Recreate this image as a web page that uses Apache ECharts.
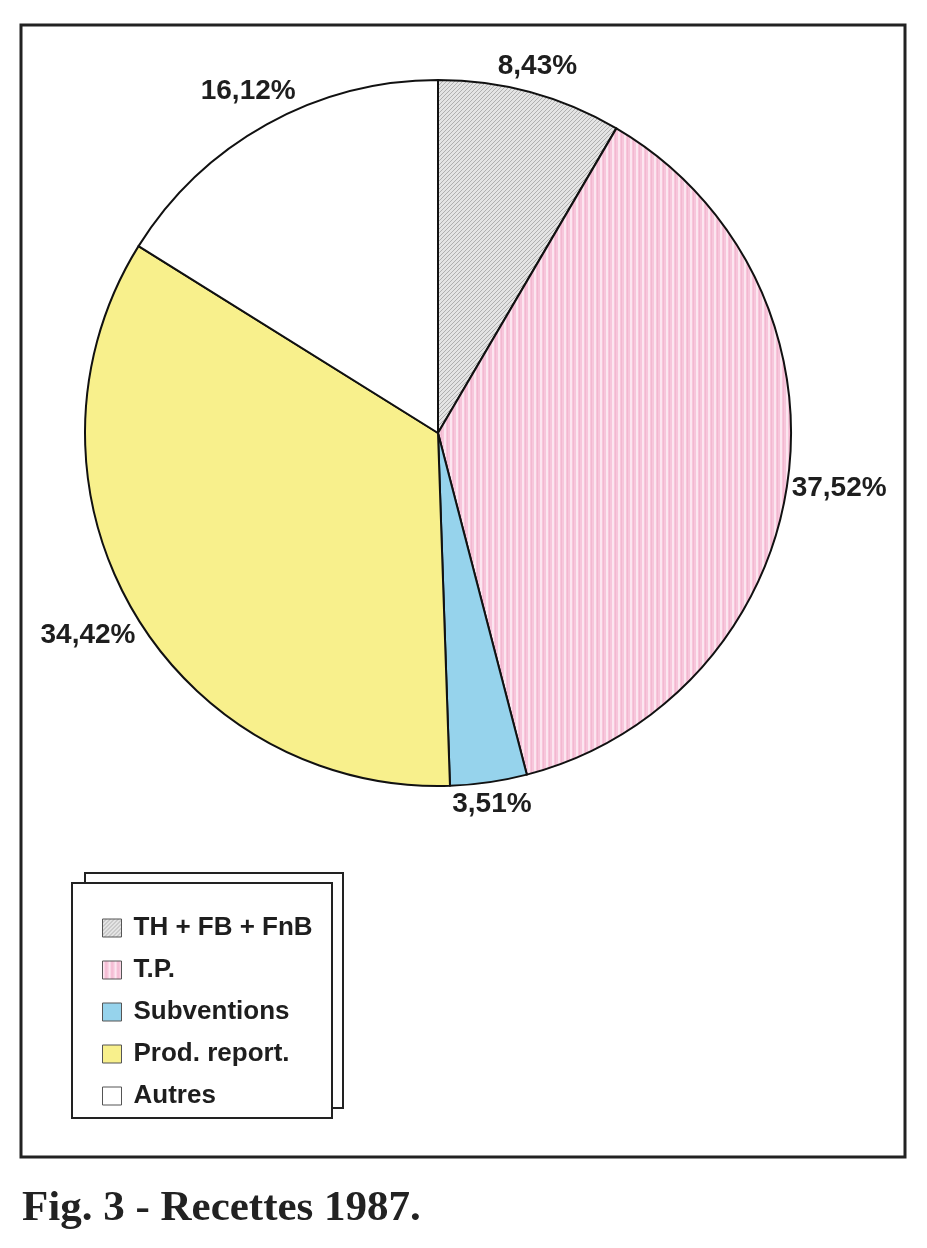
<!DOCTYPE html>
<html><head><meta charset="utf-8">
<script src="https://cdn.jsdelivr.net/npm/echarts@6/dist/echarts.min.js"></script>
<style>html,body{margin:0;padding:0;background:#fff}#c{width:927px;height:1248px}</style>
</head><body><div id="c"></div>
<script>
const categories = ['TH + FB + FnB', 'T.P.', 'Subventions', 'Prod. report.', 'Autres'];
const values = [8.43, 37.52, 3.51, 34.42, 16.12];
const valueLabels = ['8,43%', '37,52%', '3,51%', '34,42%', '16,12%'];
const caption = 'Fig. 3 - Recettes 1987.';

function pattern(w, h, bg, draw) {
  const c = document.createElement('canvas'); c.width = w; c.height = h;
  const g = c.getContext('2d'); g.fillStyle = bg; g.fillRect(0, 0, w, h); draw(g);
  return { image: c, repeat: 'repeat' };
}
const greyPat = pattern(4, 4, '#e4e4e4', g => { g.fillStyle = '#b0b0b0'; for (let i = 0; i < 4; i++) g.fillRect(i, 3 - i, 1, 1); });
const pinkPat = pattern(6, 4, '#f7c6db', g => { g.fillStyle = '#fce6f0'; g.fillRect(0, 0, 2, 4); g.fillStyle = '#f3b8d0'; g.fillRect(3, 0, 1, 4); });
const colors = [greyPat, pinkPat, '#96d3ec', '#f8f08c', '#ffffff'];

const CX = 438, CY = 433, R = 353;
const total = values.reduce((a, b) => a + b, 0);
const chart = echarts.init(document.getElementById('c'), null, { renderer: 'canvas' });
chart.setOption({
  backgroundColor: '#fff',
  animation: false,
  graphic: [
    { type: 'rect', z: 0, shape: { x: 21, y: 25, width: 884, height: 1132 }, style: { fill: 'none', stroke: '#222', lineWidth: 3 } },
    { type: 'rect', z: 1, shape: { x: 85, y: 873, width: 258, height: 235 }, style: { fill: '#fff', stroke: '#222', lineWidth: 2 } },
    { type: 'rect', z: 2, shape: { x: 72, y: 883, width: 260, height: 235 }, style: { fill: '#fff', stroke: '#222', lineWidth: 2 } },
    { type: 'text', z: 2, left: 22, top: 1187, style: { text: caption, font: 'bold 43px "Liberation Serif"', fill: '#222' } }
  ],
  legend: {
    orient: 'vertical', left: 97, top: 909, z: 5,
    itemWidth: 19, itemHeight: 18, itemGap: 14,
    icon: 'rect',
    itemStyle: { borderColor: '#555', borderWidth: 1 },
    textStyle: { fontFamily: 'Liberation Sans', fontWeight: 'bold', fontSize: 26, color: '#1e1e1e', lineHeight: 28, padding: [0, 0, 0, 7] },
    data: categories
  },
  series: [{
    type: 'pie', center: [CX, CY], radius: R, startAngle: 90, clockwise: true,
    avoidLabelOverlap: false,
    itemStyle: { borderColor: '#111', borderWidth: 2 },
    label: { show: true, position: 'outside', formatter: p => valueLabels[p.dataIndex], fontFamily: 'Liberation Sans', fontWeight: 'bold', fontSize: 28, color: '#1e1e1e' },
    labelLine: { show: false, length: 0, length2: 0 },
    labelLayout: function (p) {
      const i = p.dataIndex;
      let cum = 0; for (let k = 0; k < i; k++) cum += values[k];
      const a = (cum + values[i] / 2) / total * 2 * Math.PI;
      const dx = Math.sin(a), dy = -Math.cos(a);
      const w = p.labelRect.width, h = p.labelRect.height;
      const d = R + 3 + Math.abs(dx) * w / 2 + Math.abs(dy) * h / 2;
      return { x: CX + dx * d, y: CY + dy * d, align: 'center', verticalAlign: 'middle' };
    },
    emphasis: { disabled: true },
    data: categories.map((n, i) => ({ name: n, value: values[i], itemStyle: { color: colors[i] } }))
  }]
});
</script></body></html>
